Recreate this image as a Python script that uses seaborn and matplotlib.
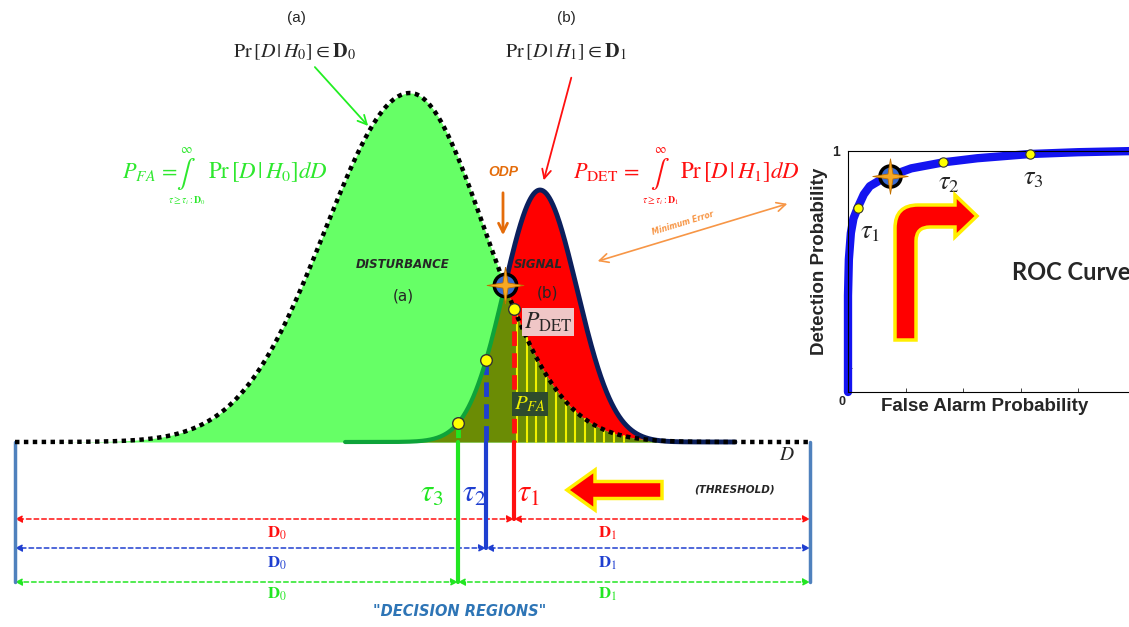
import numpy as np
import matplotlib.pyplot as plt
import seaborn as sns
from matplotlib.patches import FancyArrow, PathPatch
from matplotlib.path import Path

sns.set_theme(style='white')
plt.rcParams['font.family'] = ['Liberation Sans', 'DejaVu Sans']
plt.rcParams['mathtext.fontset'] = 'stix'

# --- data (D axis in picture units, heights above the baseline) ---
d_range = [15, 810]
h0_peak = [410, 349]        # disturbance H0: position, height
h0_sd = [85, 75]            # left / right spread
h1_peak = [540, 252]        # signal H1: position, height
h1_sd = [36, 37]
h1_range = [345, 735]
tau_names = ['1', '2', '3']
tau_values = [514, 486, 458]
tau_colors = ['#ff1010', '#1f3fd0', '#22e622']

# ROC curve (false alarm, detection)
roc_fa = [0.0, 0.0, 0.003, 0.010, 0.019, 0.034, 0.055, 0.076, 0.11, 0.146, 0.22, 0.332, 0.45, 0.633, 0.8, 1.0]
roc_pd = [0.0, 0.40, 0.55, 0.66, 0.72, 0.765, 0.82, 0.854, 0.878, 0.896, 0.928, 0.953, 0.97, 0.9875, 0.995, 1.0]
roc_tau_fa = [0.034, 0.332, 0.633]
roc_tau_pd = [0.765, 0.953, 0.9875]
roc_odp = [0.146, 0.896]

# four point star marker for the optimum decision point
star4 = [(0, 1), (0.14, 0.14), (1, 0), (0.14, -0.14), (0, -1), (-0.14, -0.14), (-1, 0), (-0.14, 0.14), (0, 1)]


def density(x, peak, sd):
    s = np.where(x < peak[0], sd[0], sd[1])
    return peak[1] * np.exp(-0.5 * ((x - peak[0]) / s) ** 2)


d = np.linspace(d_range[0], d_range[1], 1600)
h0 = density(d, h0_peak, h0_sd)
h1 = density(d, h1_peak, h1_sd)
h1[(d < h1_range[0]) | (d > h1_range[1])] = np.nan
h1z = np.nan_to_num(h1)

mid = (d > 450) & (d < 560)
i_cross = np.where(mid)[0][np.argmin(np.abs(h0[mid] - h1z[mid]))]
x_cross, y_cross = d[i_cross], h0[i_cross]

fig = plt.figure(figsize=(11.29, 6.27), dpi=100)
ax = fig.add_axes([0, 0, 1, 1])
ax.set_xlim(0, 1129)
ax.set_ylim(-185, 442)
ax.axis('off')

# fills
ax.fill_between(d, 0, h0, color='#66ff66', lw=0, zorder=1)
ax.fill_between(d, 0, np.minimum(h0, h1z), color='#6b8c05', lw=0, zorder=2)
ax.fill_between(d, h0, h1z, where=h1z > h0, color='#ff0000', lw=0, zorder=2)

# yellow hatching for P_FA
for xh in np.arange(tau_values[0] + 3, 630, 9.7):
    ax.plot([xh, xh], [0, density(np.array([xh]), h0_peak, h0_sd)[0]], color='#f0f000', lw=1.5, zorder=3)

# threshold lines
dot_y = [density(np.array([tau_values[0]]), h0_peak, h0_sd)[0],
         density(np.array([tau_values[1]]), h1_peak, h1_sd)[0],
         density(np.array([tau_values[2]]), h1_peak, h1_sd)[0]]
row_y = [-77, -106, -140]
for t, c, yd, yr in zip(tau_values, tau_colors, dot_y, row_y):
    ax.plot([t, t], [yd, 0], color=c, lw=3.5, ls=(0, (3, 1.5)), zorder=4)
    ax.plot([t, t], [0, yr], color=c, lw=3, zorder=4)

# curves
sig_l = d <= x_cross
sig_r = d >= x_cross
sns.lineplot(x=d[sig_r], y=h1[sig_r], ax=ax, color='#0b1f5c', lw=3.5, zorder=5, estimator=None, sort=False)
sns.lineplot(x=d[sig_l], y=h1[sig_l], ax=ax, color='#0ea33a', lw=3, zorder=5, estimator=None, sort=False)
ax.plot(d, h0, color='black', lw=3.2, ls=(0, (1, 1)), zorder=6)

# threshold dots and optimum point
ax.scatter(tau_values, dot_y, s=70, color='#ffff00', edgecolor='#333333', lw=1, zorder=8)
ax.scatter([x_cross], [y_cross], s=260, color='#3a6bd0', edgecolor='black', lw=2.5, zorder=8)
ax.scatter([x_cross], [y_cross], s=700, marker=star4, color='#f7a823', edgecolor='#c07000', lw=0.6, zorder=9)

# labels on the densities
ax.text(403, 177, 'DISTURBANCE', fontsize=8.5, fontweight='bold', style='italic', ha='center', va='center',
        family='DejaVu Sans', zorder=7)
ax.text(403, 146, '(a)', fontsize=11, ha='center', va='center', family='DejaVu Sans', zorder=7)
ax.text(538, 177, 'SIGNAL', fontsize=8.5, fontweight='bold', style='italic', ha='center', va='center',
        family='DejaVu Sans', zorder=7)
ax.text(547, 149, '(b)', fontsize=11, ha='center', va='center', family='DejaVu Sans', zorder=7)
ax.text(548, 120, r'$P_{\mathrm{DET}}$', fontsize=17, ha='center', va='center', zorder=9,
        bbox=dict(facecolor='#efc6c6', edgecolor='none', pad=1.5))
ax.text(530, 38, r'$P_{FA}$', fontsize=15, color='#f0f000', ha='center', va='center', zorder=9,
        bbox=dict(facecolor='#2e4b2e', edgecolor='none', pad=1.5))

# top captions
green_txt = '#2ee82e'
ax.text(296, 424, '(a)', fontsize=11, ha='center', va='center')
ax.text(294, 390, r'$\Pr\left[D\,|\,H_0\right]\in\mathbf{D}_0$', fontsize=14.5, ha='center', va='center')
ax.text(566, 424, '(b)', fontsize=11, ha='center', va='center')
ax.text(566, 390, r'$\Pr\left[D\,|\,H_1\right]\in\mathbf{D}_1$', fontsize=14.5, ha='center', va='center')
ax.annotate('', xy=(370, 314), xytext=(313, 377),
            arrowprops=dict(arrowstyle='->', color='#22ee22', lw=1.3, mutation_scale=16))
ax.annotate('', xy=(543, 259), xytext=(572, 367),
            arrowprops=dict(arrowstyle='->', color='#ff1010', lw=1.3, mutation_scale=16))

# integral formulas
for xr, xi, xp, col, lhs, sub, h in [(178, 186, 208, green_txt, r'$P_{FA}\,=$', r'$\tau\geq\tau_i:\mathbf{D}_0$', '0'),
                                     (640, 660, 680, '#ff1010', r'$P_{\mathrm{DET}}\,=$', r'$\tau\geq\tau_i:\mathbf{D}_1$', '1')]:
    ax.text(xr, 270, lhs, fontsize=16, color=col, ha='right', va='center')
    ax.text(xi, 268, r'$\int$', fontsize=20, color=col, ha='center', va='center')
    ax.text(xi, 292, r'$\infty$', fontsize=9, color=col, ha='center', va='center')
    ax.text(xi + 1, 241, sub, fontsize=7, color=col, ha='center', va='center')
    ax.text(xp, 270, r'$\Pr\left[D\,|\,H_%s\right]dD$' % h, fontsize=16.5, color=col, ha='left', va='center')

# ODP and minimum error
ax.text(503, 270, 'ODP', fontsize=10, color='#e46c0a', fontweight='bold', style='italic', ha='center', va='center')
ax.annotate('', xy=(503, 204), xytext=(503, 252),
            arrowprops=dict(arrowstyle='->', color='#e46c0a', lw=2, mutation_scale=16))
ax.annotate('', xy=(595, 180), xytext=(790, 239),
            arrowprops=dict(arrowstyle='<->', color='#f79646', lw=1.2, mutation_scale=16))
ax.text(683, 219, 'Minimum Error', fontsize=5.5, color='#f79646', fontweight='bold', style='italic',
        rotation=17, ha='center', va='center', family='DejaVu Sans')

# bottom: thresholds and decision regions
ax.text(787, -13, r'$D$', fontsize=14, ha='center', va='center')
tau_label_x = [528, 474, 432]
for name, c, xl in zip(tau_names, tau_colors, tau_label_x):
    ax.text(xl, -52, r'$\tau_%s$' % name, fontsize=22, color=c, ha='center', va='center')
ax.add_patch(FancyArrow(662, -48, -95, 0, width=17, head_width=40, head_length=28, length_includes_head=True,
                        facecolor='#ff0000', edgecolor='#fff000', lw=2.5, zorder=5))
ax.text(735, -48, '(THRESHOLD)', fontsize=7.5, fontweight='bold', style='italic', ha='center', va='center',
        family='DejaVu Sans')

label_y = [-91, -121, -152]
for t, c, yr, yl in zip(tau_values, tau_colors, row_y, label_y):
    for a, b in [(d_range[0], t), (t, d_range[1])]:
        ax.annotate('', xy=(a, yr), xytext=(b, yr),
                    arrowprops=dict(arrowstyle='<|-|>', color=c, lw=1.1, ls=(0, (3, 2)), mutation_scale=10,
                                    shrinkA=0, shrinkB=0))
    ax.text(277, yl, r'$\mathbf{D}_0$', fontsize=12, color=c, ha='center', va='center')
    ax.text(607, yl, r'$\mathbf{D}_1$', fontsize=12, color=c, ha='center', va='center')
for xb in d_range:
    ax.plot([xb, xb], [0, row_y[2]], color='#4f81bd', lw=2.5, zorder=3)
ax.text(460, -170, '"DECISION REGIONS"', fontsize=10.5, color='#2e75b6', fontweight='bold', style='italic',
        ha='center', va='center', family='DejaVu Sans')

# --- ROC inset ---
roc = fig.add_axes([848 / 1129, 235 / 627, 287.5 / 1129, 241 / 627])
sns.lineplot(x=roc_fa, y=roc_pd, ax=roc, color='#1414f0', lw=6, estimator=None, sort=False, clip_on=False)
roc.set_xlim(0, 1)
roc.set_ylim(0, 1)
roc.set_facecolor('white')
for s in roc.spines.values():
    s.set_color('black')
    s.set_linewidth(0.8)
roc.set_xticks([0.2, 0.4, 0.6, 0.8])
roc.set_xticklabels([])
roc.set_yticks([0.1, 1])
roc.set_yticklabels(['', '1'], fontsize=10, fontweight='bold')
roc.tick_params(direction='in', length=3, width=0.6, pad=6, left=True, bottom=True)
roc.text(-0.02, -0.015, '0', fontsize=9, fontweight='bold', ha='center', va='top')
roc.set_ylabel('Detection Probability', fontsize=13.5, fontweight='bold')
roc.yaxis.set_label_coords(-0.07, 0.54)
roc.set_xlabel('False Alarm Probability', fontsize=13.5, fontweight='bold')
roc.xaxis.set_label_coords(0.476, -0.025)

roc.scatter(roc_tau_fa, roc_tau_pd, s=45, color='#ffff00', edgecolor='#333333', lw=0.8, zorder=5, clip_on=False)
roc.scatter([roc_odp[0]], [roc_odp[1]], s=230, color='#3a6bd0', edgecolor='black', lw=2.5, zorder=5)
roc.scatter([roc_odp[0]], [roc_odp[1]], s=650, marker=star4, color='#f7a823', edgecolor='#c07000', lw=0.6,
            zorder=6)
for name, fx, fy, off in zip(tau_names, roc_tau_fa, roc_tau_pd, [(12, -24), (5, -21), (3, -24)]):
    roc.annotate(r'$\tau_%s$' % name, xy=(fx, fy), xytext=off, textcoords='offset pixels', fontsize=19,
                 ha='center', va='center')

roc.text(0.57, 0.497, 'ROC Curve', fontsize=17, fontweight='bold', family='Lato', ha='left', va='center',
         clip_on=False)

# bent red arrow (picture coordinates, y measured up from the baseline)
bent = [(895, 340), (895, 228), (895, 205), (918, 205), (955, 205), (955, 195), (977, 216), (955, 237),
        (955, 227), (930, 227), (916, 227), (916, 241), (916, 340), (895, 340)]
codes = [Path.MOVETO, Path.LINETO, Path.CURVE3, Path.CURVE3, Path.LINETO, Path.LINETO, Path.LINETO,
         Path.LINETO, Path.LINETO, Path.LINETO, Path.CURVE3, Path.CURVE3, Path.LINETO, Path.CLOSEPOLY]
bent_path = Path([(x, 442 - y) for x, y in bent], codes)
roc.add_patch(PathPatch(bent_path, facecolor='#ff0000', edgecolor='#ffee00', lw=2.5,
                        transform=ax.transData, zorder=4, clip_on=False))

fig.savefig('out.png', dpi=100)
